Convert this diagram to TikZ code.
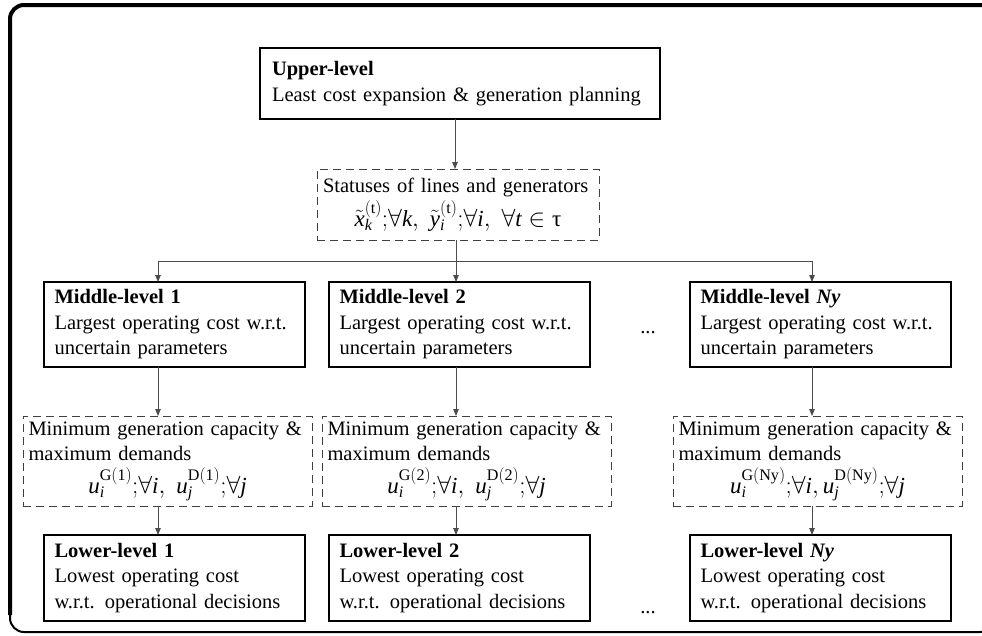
\documentclass[tikz,border=0pt]{standalone}
\usepackage{fontspec}
\setmainfont{Liberation Serif}
\usetikzlibrary{arrows.meta}
\newcommand\fml[1]{{\fontsize{23}{25.5}\selectfont$#1$}}
\begin{document}
\begin{tikzpicture}[x=1pt,y=-1pt,
  txt/.style={font=\fontsize{20.5}{25.5}\selectfont},
  solidbox/.style={draw=black, line width=1.1pt, outer sep=0pt, anchor=north west,
    align=left, inner ysep=0pt, txt},
  dashbox/.style={draw=black!75, line width=1pt, dash pattern=on 8pt off 5pt,
    outer sep=0pt, anchor=north west, align=left, inner ysep=0pt, txt},
  midbox/.style={solidbox, text width=240pt, inner xsep=10.5pt, minimum height=85pt},
  lowbox/.style={solidbox, text width=240pt, inner xsep=10.5pt, minimum height=86pt},
  minbox/.style={dashbox, text width=278pt, inner xsep=5.5pt, minimum height=90pt},
  conn/.style={draw=black!70, line width=0.9pt},
  arr/.style={conn, -{Triangle[length=7pt,width=5.5pt]}}
]
\useasboundingbox (0,0) rectangle (982,635);
% outer frame
\draw[line width=2pt, rounded corners=14pt] (10,632) rectangle (994,5);
\draw[line width=4pt, rounded corners=14pt] (10,615) -- (10,5) -- (985,5);

% upper level
\node[solidbox, text width=376pt, inner xsep=12pt, minimum height=71pt] (up) at (260,48)
  {\mbox{\textbf{Upper-level}}\\\mbox{Least cost expansion \& generation planning}};
% statuses
\node[dashbox, text width=270pt, inner xsep=6pt, minimum height=71pt] (st) at (317,169)
  {\mbox{Statuses of lines and generators}\\[3pt]
   \makebox[\hsize][c]{\fml{\tilde{\mathit{x}}_{\mathit{k}}^{(\mathrm{t})};\!\forall \mathit{k},\ \tilde{\mathit{y}}_{\mathit{i}}^{(\mathrm{t})};\!\forall \mathit{i},\ \forall \mathit{t}\in\mbox{τ}}}};

% middle level
\node[midbox] (m1) at (44,282) {\mbox{\textbf{Middle-level 1}}\\\mbox{Largest operating cost w.r.t.}\\\mbox{uncertain parameters}};
\node[midbox] (m2) at (329,282) {\mbox{\textbf{Middle-level 2}}\\\mbox{Largest operating cost w.r.t.}\\\mbox{uncertain parameters}};
\node[midbox] (m3) at (690,282) {\mbox{\textbf{Middle-level \textit{Ny}}}\\\mbox{Largest operating cost w.r.t.}\\\mbox{uncertain parameters}};
\node[txt, anchor=base] (d1) at (648,333) {...};

% minimum generation boxes
\node[minbox] (g1) at (23,416) {\mbox{Minimum generation capacity \&}\\\mbox{maximum demands}\\[6pt]
  \makebox[\hsize][c]{\fml{\mathit{u}_{\mathit{i}}^{\mathrm{G(1)}};\!\forall\mathit{i},\ \mathit{u}_{\mathit{j}}^{\mathrm{D(1)}};\!\forall\mathit{j}}}};
\node[minbox] (g2) at (322,416) {\mbox{Minimum generation capacity \&}\\\mbox{maximum demands}\\[6pt]
  \makebox[\hsize][c]{\fml{\mathit{u}_{\mathit{i}}^{\mathrm{G(2)}};\!\forall\mathit{i},\ \mathit{u}_{\mathit{j}}^{\mathrm{D(2)}};\!\forall\mathit{j}}}};
\node[minbox] (g3) at (673,416) {\mbox{Minimum generation capacity \&}\\\mbox{maximum demands}\\[6pt]
  \makebox[\hsize][c]{\fml{\mathit{u}_{\mathit{i}}^{\mathrm{G(Ny)}};\!\forall\mathit{i},\mathit{u}_{\mathit{j}}^{\mathrm{D(Ny)}};\!\forall\mathit{j}}}};

% lower level
\node[lowbox] (l1) at (44,535) {\mbox{\textbf{Lower-level 1}}\\\mbox{Lowest operating cost}\\\mbox{w.r.t. operational decisions}};
\node[lowbox] (l2) at (329,535) {\mbox{\textbf{Lower-level 2}}\\\mbox{Lowest operating cost}\\\mbox{w.r.t. operational decisions}};
\node[lowbox] (l3) at (690,535) {\mbox{\textbf{Lower-level \textit{Ny}}}\\\mbox{Lowest operating cost}\\\mbox{w.r.t. operational decisions}};
\node[txt, anchor=base] (d2) at (648,613) {...};

% connectors
\coordinate (c0) at (455,0);
\coordinate (j1) at (158,261);
\coordinate (j2) at (456,261);
\coordinate (j3) at (812,261);
\draw[arr] (up.south -| c0) -- (st.north -| c0);
\draw[conn] (st.south -| j2) -- (j2);
\draw[conn] (j1) -- (j3);
\draw[arr] (j1) -- (m1.north -| j1);
\draw[arr] (j2) -- (m2.north -| j2);
\draw[arr] (j3) -- (m3.north -| j3);
\draw[arr] (m1.south -| j1) -- (g1.north -| j1);
\draw[arr] (m2.south -| j2) -- (g2.north -| j2);
\draw[arr] (m3.south -| j3) -- (g3.north -| j3);
\draw[arr] (g1.south -| j1) -- (l1.north -| j1);
\draw[arr] (g2.south -| j2) -- (l2.north -| j2);
\draw[arr] (g3.south -| j3) -- (l3.north -| j3);
\end{tikzpicture}
\end{document}
